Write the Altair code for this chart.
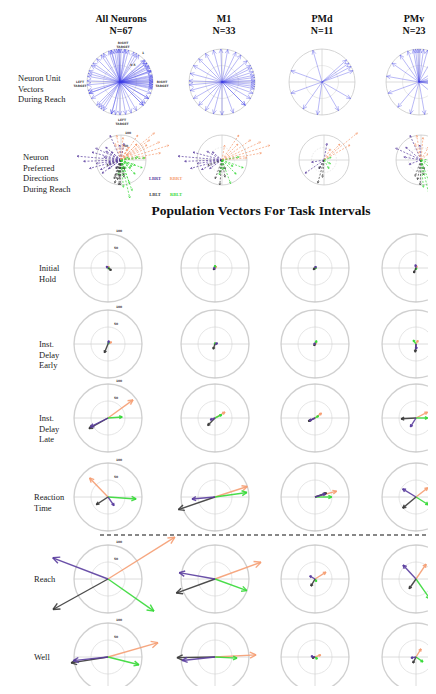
import math
import altair as alt
import pandas as pd

# ---------------- data ----------------
AREAS = ["All Neurons", "M1", "PMd", "PMv"]
AREA_N = [67, 33, 11, 23]
CONDITIONS = ["LBRT", "RBRT", "LBLT", "RBLT"]
COND_COLORS = ["#5a3d9e", "#f59d72", "#3a3a3a", "#35d936"]

# Row 1: neuron unit vectors during reach (deg, counter-clockwise from right)
m1_unit_deg = [0, 3, -4, 8, -8, 12, -12, 18, -20, 25, 30, -30, 40, -45, 55, 65, 80,
               92, 105, 120, 135, 150, 165, 178, 185, 195, 210, 225, 240, 255, 270, 290, 315]
pmd_unit_deg = [106, 35, 28, 42, 20, 160, 200, 235, 262, 300, 330]
pmv_unit_deg = [0, 5, -5, 10, -10, 20, 35, 60, 75, 82, 88, 92, 96, 100, 110, 125, 145,
                170, 200, 230, 255, 280, 320]

# Row 2: preferred directions during reach, per condition [LBRT, RBRT, LBLT, RBLT]
m1_pd_deg = [[165, 175, 182, 188, 195, 205, 150, 215, 140],
             [10, 17, 25, 35, 56, 5, 45, 80],
             [-95, -80, -110, -100, 200, -70],
             [-20, -45, -70, -100, 10, -30, -85]]
m1_pd_mag = [[120, 176, 150, 100, 130, 90, 70, 60, 50],
             [160, 200, 170, 140, 120, 100, 90, 60],
             [100, 70, 80, 50, 60, 40],
             [90, 80, 100, 60, 70, 50, 40]]
pmd_pd_deg = [[215, 80, 190, 240], [39, 30, 45, 60], [-105, -95, -120], [-60, -30, 20]]
pmd_pd_mag = [[92, 68, 50, 40], [172, 120, 90, 50], [96, 70, 40], [40, 30, 30]]
pmv_pd_deg = [[155, 114, 140, 170, 95, 200], [100, 85, 60, 40, 110],
              [-92, -100, -80, -110, -70], [-77, -70, 5, -85, -20, -40]]
pmv_pd_mag = [[112, 108, 80, 70, 60, 50], [100, 90, 60, 40, 70],
              [100, 80, 60, 70, 40], [156, 130, 96, 110, 60, 50]]

# Population vectors for task intervals: rows = areas, cols = [LBRT, RBRT, LBLT, RBLT]
INTERVALS = ["Initial\nHold", "Inst.\nDelay\nEarly", "Inst.\nDelay\nLate",
             "Reaction\nTime", "Reach", "Well"]
hold_deg = [[135, 60, -35, -20], [200, 55, 225, 90], [60, 45, 225, 0], [100, 70, 245, 280]]
hold_mag = [[7, 6, 12, 5], [5, 7, 7, 8], [6, 4, 7, 4], [10, 7, 16, 5]]
early_deg = [[75, 30, 248, 60], [15, 30, 251, 90], [150, 45, 240, 63], [275, 60, 265, 125]]
early_mag = [[10, 12, 28, 6], [8, 5, 16, 4], [4, 5, 6, 11], [15, 12, 24, 14]]
late_deg = [[207, 36, 209, 4], [200, 30, 226, 26], [205, 37, 206, 30], [238, 27, 183, 0]]
late_mag = [[58, 91, 64, 42], [15, 34, 31, 22], [18, 24, 22, 12], [31, 38, 44, 34]]
rt_deg = [[-55, 134, 213, -4], [185, 18, 199, 8], [17, 15, 19, 0], [149, 38, 220, -32]]
rt_mag = [[31, 78, 41, 83], [68, 100, 114, 95], [32, 66, 36, 49], [46, 44, 51, 43]]
reach_deg = [[159, 32, 209, -35], [170, 20, 200, -20], [150, 32, 240, -60], [133, 56, 235, -55]]
reach_mag = [[174, 232, 185, 165], [107, 144, 121, 100], [18, 38, 24, 9], [56, 53, 35, 72]]
well_deg = [[186, 16, 189, -14], [186, 3, 181, -3], [170, 20, 200, -40], [190, 58, 243, -35]]
well_mag = [[103, 153, 110, 94], [97, 121, 112, 65], [12, 18, 9, 9], [15, 28, 20, 25]]
interval_deg = [hold_deg, early_deg, late_deg, rt_deg, reach_deg, well_deg]
interval_mag = [hold_mag, early_mag, late_mag, rt_mag, reach_mag, well_mag]

# ---------------- layout (pixels) ----------------
TOP_CX = [120, 222, 322, 419]
HEAD_X = [121, 224, 322, 414]
U_CY, U_R = 82, 33
PD_CX = [121, 222, 324, 421]
PD_CY, PD_R = 160, 25
T_CX = [108, 215, 315, 416]
T_CY = [268, 344, 418, 497, 579, 657]
T_R = 34


def arrow_rows(cx, cy, deg, length, head, **extra):
    th = math.radians(deg)
    ex, ey = cx + length * math.cos(th), cy - length * math.sin(th)
    rows = [dict(x=cx, y=cy, x2=ex, y2=ey, **extra)]
    for s in (1, -1):
        b = th + math.pi + s * 0.45
        rows.append(dict(x=ex, y=ey, x2=ex + head * math.cos(b), y2=ey - head * math.sin(b), **extra))
    return rows


# grid
circ_rows, cross_rows = [], []
def add_grid(cx, cy, r, outer_col, inner_col, ow, iw, inner_dash):
    circ_rows.append(dict(x=cx, y=cy, size=(2 * r) ** 2, col=outer_col, w=ow, kind="solid"))
    circ_rows.append(dict(x=cx, y=cy, size=r ** 2, col=inner_col, w=iw, kind=inner_dash))
    cross_rows.append(dict(x=cx - r, y=cy, x2=cx + r, y2=cy))
    cross_rows.append(dict(x=cx, y=cy - r, x2=cx, y2=cy + r))

for cx in TOP_CX:
    add_grid(cx, U_CY, U_R, "#c4c4c4", "#d6d6d6", 1.0, 0.7, "solid")
for cx in PD_CX:
    add_grid(cx, PD_CY, PD_R, "#c4c4c4", "#d6d6d6", 1.0, 0.7, "dot")
for cy in T_CY:
    for cx in T_CX:
        add_grid(cx, cy, T_R, "#bdbdbd", "#d3d3d3", 1.3, 0.8, "solid")
circ_df = pd.DataFrame(circ_rows)
cross_df = pd.DataFrame(cross_rows)

# row 1 vectors
unit_lists = [m1_unit_deg + pmd_unit_deg + pmv_unit_deg, m1_unit_deg, pmd_unit_deg, pmv_unit_deg]
unit_rows = []
for cx, degs in zip(TOP_CX, unit_lists):
    for d in degs:
        unit_rows += arrow_rows(cx, U_CY, d, U_R, 4.5)
unit_df = pd.DataFrame(unit_rows)

# row 2 preferred directions
area_pd = [(m1_pd_deg, m1_pd_mag), (pmd_pd_deg, pmd_pd_mag), (pmv_pd_deg, pmv_pd_mag)]
pd_rows = []
for ai, cx in enumerate(PD_CX):
    sources = area_pd if ai == 0 else [area_pd[ai - 1]]
    for degs, mags in sources:
        for ci, cond in enumerate(CONDITIONS):
            for d, m in zip(degs[ci], mags[ci]):
                L = m / 100 * PD_R
                pd_rows += arrow_rows(cx, PD_CY, d, L, 3.0, cond=cond)
pd_df = pd.DataFrame(pd_rows)

# task interval population vectors
draw_order = [1, 3, 2, 0]
vec_rows = []
for ri, cy in enumerate(T_CY):
    for ai, cx in enumerate(T_CX):
        for ci in draw_order:
            d = interval_deg[ri][ai][ci]
            L = interval_mag[ri][ai][ci] / 100 * T_R
            head = min(max(0.13 * L + 1.5, 2.0), 7.5)
            vec_rows += arrow_rows(cx, cy, d, L, head, cond=CONDITIONS[ci], order=draw_order.index(ci))
vec_df = pd.DataFrame(vec_rows)

# texts
header_df = pd.DataFrame([dict(x=hx, y=19, t=f"{a}\nN={n}") for hx, a, n in zip(HEAD_X, AREAS, AREA_N)])
rowlab_df = pd.DataFrame(
    [dict(x=18, y=78, t="Neuron Unit\nVectors\nDuring Reach"),
     dict(x=23, y=157, t="Neuron\nPreferred\nDirections\nDuring Reach")]
    + [dict(x=(39 if i < 3 else 34), y=cy, t=lab) for i, (lab, cy) in enumerate(zip(INTERVALS, T_CY))])
title_df = pd.DataFrame([dict(x=261, y=211, t="Population Vectors For Task Intervals")])
legend_df = pd.DataFrame([dict(x=155, y=179, t="LBRT", cond="LBRT"), dict(x=176, y=179, t="RBRT", cond="RBRT"),
                          dict(x=155, y=195, t="LBLT", cond="LBLT"), dict(x=176, y=195, t="RBLT", cond="RBLT")])
tiny_rows = [dict(x=T_CX[0] + 11, y=cy - T_R - 3, t="100") for cy in T_CY]
tiny_rows += [dict(x=T_CX[0] + 8, y=cy - T_R / 2 - 3, t="50") for cy in T_CY]
tiny_rows += [dict(x=PD_CX[0] + 7, y=PD_CY - PD_R - 2, t="100"), dict(x=PD_CX[0] + 5, y=PD_CY - PD_R / 2 - 2, t="50")]
tiny_rows += [dict(x=TOP_CX[0] + 3, y=U_CY - U_R - 6, t="RIGHT\nTARGET"),
              dict(x=TOP_CX[0] + 2, y=U_CY + U_R + 5, t="LEFT\nTARGET"),
              dict(x=TOP_CX[0] - U_R - 7, y=U_CY, t="LEFT\nTARGET"),
              dict(x=TOP_CX[0] + U_R + 9, y=U_CY, t="RIGHT\nTARGET"),
              dict(x=TOP_CX[0] + 23, y=U_CY - 29, t="1"),
              dict(x=TOP_CX[0] + 13, y=U_CY - 17, t="0.5")]
tiny_df = pd.DataFrame(tiny_rows)
dash_df = pd.DataFrame([dict(x=100, y=535, x2=436, y2=535)])

# ---------------- chart ----------------
XS = alt.Scale(domain=[8, 428], nice=False, zero=False)
YS = alt.Scale(domain=[8, 686], nice=False, zero=False, reverse=True)
X = alt.X("x:Q", scale=XS, axis=None)
Y = alt.Y("y:Q", scale=YS, axis=None)
COL = alt.Color("cond:N", scale=alt.Scale(domain=CONDITIONS, range=COND_COLORS), legend=None)

circles_solid = alt.Chart(circ_df[circ_df.kind == "solid"]).mark_point(filled=False, shape="circle").encode(
    x=X, y=Y, size=alt.Size("size:Q", scale=None),
    stroke=alt.Stroke("col:N", scale=None), strokeWidth=alt.StrokeWidth("w:Q", scale=None))
circles_dot = alt.Chart(circ_df[circ_df.kind == "dot"]).mark_point(filled=False, shape="circle", strokeDash=[1.5, 1.5]).encode(
    x=X, y=Y, size=alt.Size("size:Q", scale=None),
    stroke=alt.Stroke("col:N", scale=None), strokeWidth=alt.StrokeWidth("w:Q", scale=None))
crosses = alt.Chart(cross_df).mark_rule(color="#d3d3d3", strokeWidth=0.8).encode(x=X, y=Y, x2="x2:Q", y2="y2:Q")

units = alt.Chart(unit_df).mark_rule(color="#3b3be6", strokeWidth=0.8, opacity=0.45).encode(
    x=X, y=Y, x2="x2:Q", y2="y2:Q")
pds = alt.Chart(pd_df).mark_rule(strokeWidth=1.0, opacity=0.7, strokeDash=[2, 1.5]).encode(
    x=X, y=Y, x2="x2:Q", y2="y2:Q", color=COL)
vecs = alt.Chart(vec_df).mark_rule(strokeWidth=1.4, opacity=0.9).encode(
    x=X, y=Y, x2="x2:Q", y2="y2:Q", color=COL, order="order:Q")
dash = alt.Chart(dash_df).mark_rule(color="#111111", strokeWidth=1.2, strokeDash=[4, 3]).encode(
    x=X, y=Y, x2="x2:Q", y2="y2:Q")

serif = "Liberation Serif"
headers = alt.Chart(header_df).mark_text(font=serif, fontSize=10, fontWeight="bold", lineBreak="\n",
                                         lineHeight=11.5, color="#111111").encode(x=X, y=Y, text="t:N")
rowlabs = alt.Chart(rowlab_df).mark_text(font=serif, fontSize=8.5, align="left", lineBreak="\n",
                                         lineHeight=10.5, color="#222222").encode(x=X, y=Y, text="t:N")
title = alt.Chart(title_df).mark_text(font=serif, fontSize=13.5, fontWeight="bold", color="#111111").encode(
    x=X, y=Y, text="t:N")
legend = alt.Chart(legend_df).mark_text(font=serif, fontSize=4.5, fontWeight="bold").encode(
    x=X, y=Y, text="t:N", color=COL)
tiny = alt.Chart(tiny_df).mark_text(font="DejaVu Sans", fontSize=3, fontWeight="bold", lineBreak="\n",
                                    lineHeight=3.5, color="#444444").encode(x=X, y=Y, text="t:N")

chart = alt.layer(
    crosses, circles_solid, circles_dot, units, pds, vecs, dash, headers, rowlabs, title, legend, tiny
).properties(
    width=420, height=678, padding=0, background="white",
    autosize=alt.AutoSizeParams(type="none"),
).configure_view(stroke=None)

chart.save("out.html", embed_options={"renderer": "svg", "actions": False})
